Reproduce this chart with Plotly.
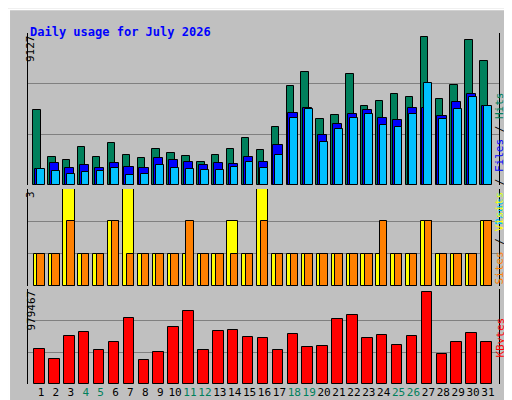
import plotly.graph_objects as go

days = list(range(1, 32))
weekend = [4, 5, 11, 12, 18, 19, 25, 26]

hits = [4493, 1652, 1531, 2257, 1652, 2498, 1773, 1592, 2136, 1894, 1713, 1410, 1773, 2136, 2800, 2075,
        3465, 5943, 6790, 3949, 4191, 6669, 4735, 5037, 5460, 5279, 8905, 5158, 6004, 8724, 7454]
files = [987, 1310, 1048, 1229, 1048, 1310, 1108, 1048, 1592, 1531, 1410, 1229, 1350, 1289, 1652, 1410,
         2377, 4312, 4614, 2982, 3647, 4251, 4493, 4009, 3888, 4614, 4614, 4130, 4976, 5460, 4735]
pages = [987, 826, 685, 766, 866, 1048, 625, 685, 1229, 1048, 987, 927, 927, 1108, 1410, 1048,
         1773, 4009, 4553, 2559, 3344, 4009, 4251, 3586, 3465, 4251, 6125, 3949, 4553, 5279, 4735]
visits = [1, 1, 3, 1, 1, 2, 3, 1, 1, 1, 1, 1, 1, 2, 1, 3, 1, 1, 1, 1, 1, 1, 1, 1, 1, 1, 2, 1, 1, 1, 2]
sites = [1, 1, 2, 1, 1, 2, 1, 1, 1, 1, 2, 1, 1, 1, 1, 2, 1, 1, 1, 1, 1, 1, 1, 2, 1, 1, 2, 1, 1, 1, 2]
kbytes = [360856, 257755, 491452, 536131, 347110, 429591, 677036, 244008, 326490, 584243, 749208,
          347110, 543004, 553315, 481142, 470832, 347110, 512073, 378040, 388350, 666726, 707966,
          470832, 501763, 398660, 491452, 945100, 305870, 429591, 522384, 429591]

max_hits = 9127
max_visits = 3
max_kb = 979467

line = dict(color="black", width=1)
fig = go.Figure()

# top panel: hits / files / pages
fig.add_bar(x=days, y=hits, width=0.5, offset=-0.52, marker=dict(color="#00805C", line=line), yaxis="y")
fig.add_bar(x=days, y=files, width=0.62, offset=-0.4, marker=dict(color="#0000FF", line=line), yaxis="y")
fig.add_bar(x=days, y=pages, width=0.52, offset=-0.27, marker=dict(color="#00C0FF", line=line), yaxis="y")
# middle: visits / sites
fig.add_bar(x=days, y=visits, width=0.74, offset=-0.49, marker=dict(color="#FFFF00", line=line), yaxis="y2")
fig.add_bar(x=days, y=sites, width=0.5, offset=-0.25, marker=dict(color="#FF8000", line=line), yaxis="y2")
# bottom: kbytes
fig.add_bar(x=days, y=kbytes, width=0.7, offset=-0.45, marker=dict(color="#FF0000", line=line), yaxis="y3")

mono = "DejaVu Sans Mono"
ticktext = [f'<span style="color:{"#00805C" if d in weekend else "black"}">{d}</span>' for d in days]

def yax(dom, top):
    return dict(domain=dom, range=[0, top], dtick=top / 3, showticklabels=False, ticks="",
                showgrid=True, gridcolor="#808080", gridwidth=1, zeroline=False, automargin=False,
                showline=True, linecolor="black", linewidth=1, mirror=True, anchor="x")

fig.update_layout(
    width=512, height=400, margin=dict(l=0, r=0, t=0, b=0),
    paper_bgcolor="#C0C0C0", plot_bgcolor="#C0C0C0",
    showlegend=False, barmode="overlay", bargap=0,
    font=dict(family=mono, size=11, color="black"),
    xaxis=dict(domain=[20 / 512, 491 / 512], range=[0.128, 31.74], tickvals=days, ticktext=ticktext,
               ticks="", showgrid=False, zeroline=False, anchor="y3", automargin=False,
               tickangle=0, tickfont=dict(family=mono, size=11)),
    yaxis=yax([1 - 177 / 400, 1 - 25 / 400], max_hits),
    yaxis2=yax([1 - 278 / 400, 1 - 181 / 400], max_visits),
    yaxis3=yax([1 - 376 / 400, 1 - 281 / 400], max_kb),
)

ann = [
    dict(x=20 / 512, y=1 - 15 / 400, text="<b>Daily usage for July 2026</b>", xanchor="left",
         font=dict(color="#0000FF", size=12)),
    dict(x=14 / 512, y=1 - 25 / 400, text="9127", textangle=-90, yanchor="top"),
    dict(x=14 / 512, y=1 - 181 / 400, text="3", textangle=-90, yanchor="top"),
    dict(x=14 / 512, y=1 - 281 / 400, text="979467", textangle=-90, yanchor="top"),
    dict(x=500 / 512, y=1 - 82 / 400,
         text='<span style="color:#00C0FF">Pages</span> / <span style="color:#0000FF">Files</span>'
              ' / <span style="color:#00805C">Hits</span>', textangle=-90),
    dict(x=500 / 512, y=1 - 230 / 400,
         text='<span style="color:#FF8000">Sites</span> / <span style="color:#FFFF00">Visits</span>',
         textangle=-90),
    dict(x=500 / 512, y=1 - 352 / 400, text='<span style="color:#FF0000">KBytes</span>', textangle=-90),
]
for a in ann:
    a.update(xref="paper", yref="paper", showarrow=False)
    a.setdefault("font", dict(size=11))
fig.update_layout(annotations=ann)

fig.update_layout(shapes=[
    dict(type="rect", xref="paper", yref="paper", x0=0.002, y0=0.003, x1=0.998, y1=0.997,
         line=dict(color="white", width=2)),
    dict(type="line", xref="paper", yref="paper", x0=0.006, y0=0.006, x1=0.994, y1=0.006,
         line=dict(color="#808080", width=3)),
    dict(type="line", xref="paper", yref="paper", x0=0.994, y0=0.006, x1=0.994, y1=0.994,
         line=dict(color="#808080", width=3)),
])

fig.write_html("out.html")
